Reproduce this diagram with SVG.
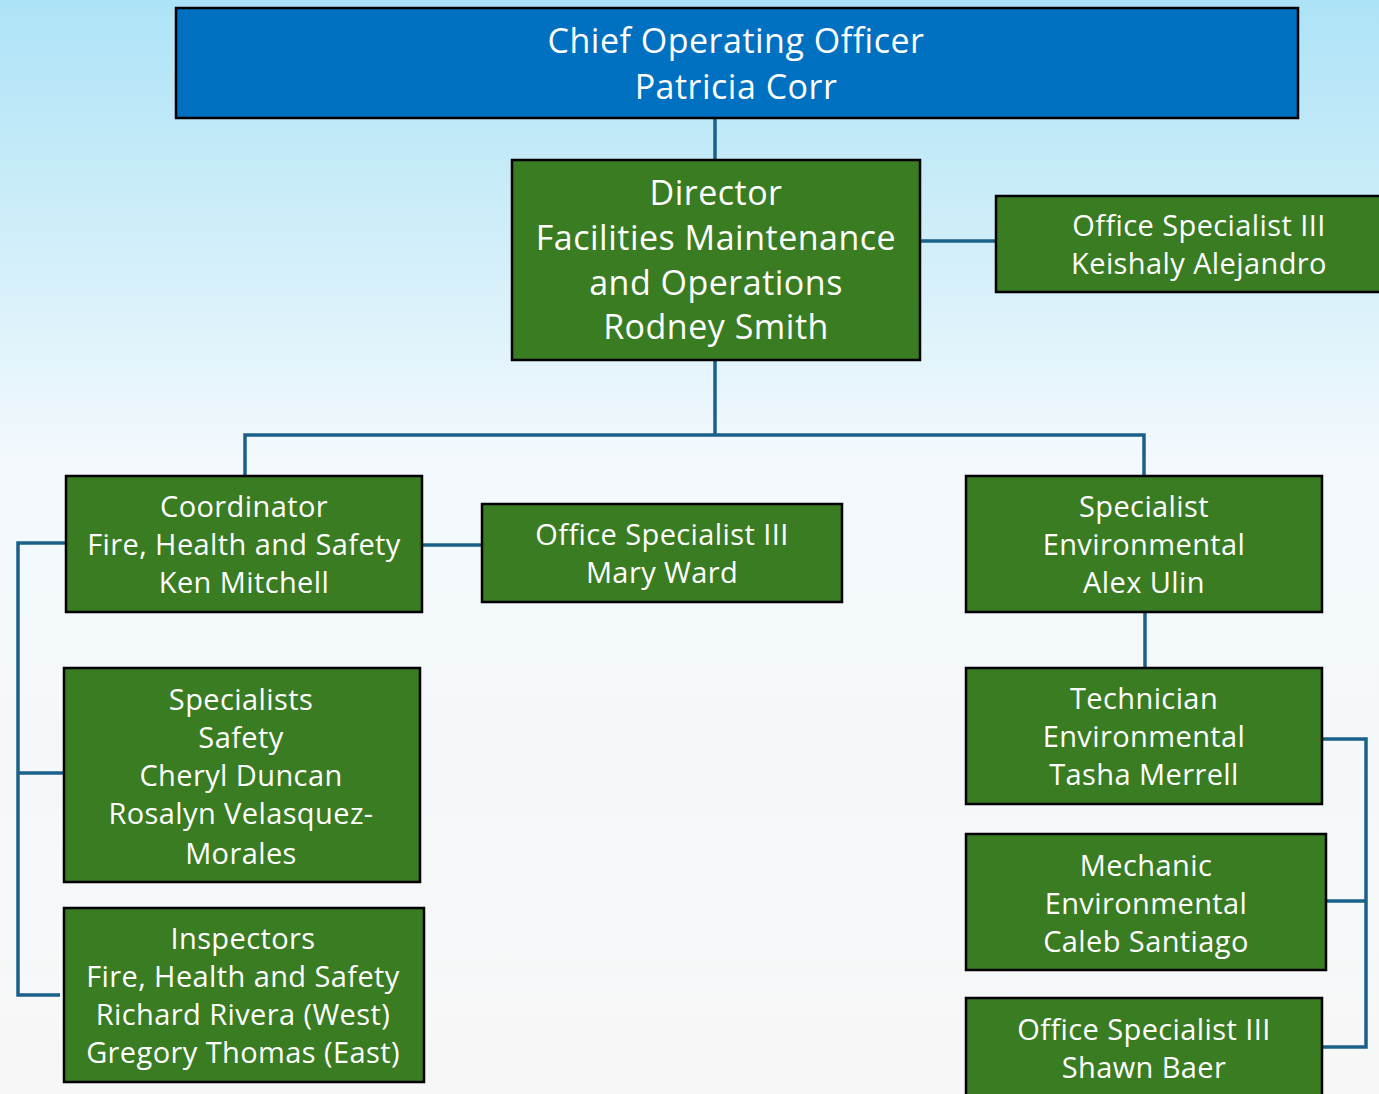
<svg xmlns="http://www.w3.org/2000/svg" width="1379" height="1094" viewBox="0 0 1379 1094">
<defs>
<linearGradient id="bg" x1="0" y1="0" x2="0" y2="1">
<stop offset="0" stop-color="#ADE3F7"/>
<stop offset="0.2" stop-color="#CDEDF9"/>
<stop offset="0.42" stop-color="#F3F9FD"/>
<stop offset="1" stop-color="#F7F7F7"/>
</linearGradient>
<style>
.box{fill:#3A7C22;stroke:#000;stroke-width:2.5}
.top{fill:#0070C0;stroke:#000;stroke-width:2.5}
.t{fill:#fff;font-family:"Open Sans","Noto Sans",sans-serif;text-anchor:middle}
.m{font-size:29px;letter-spacing:0.4px}
.b{font-size:34px;letter-spacing:0.5px}
.c{fill:none;stroke:#1B6089;stroke-width:3.5}
</style>
</defs>
<rect x="0" y="0" width="1379" height="1094" fill="url(#bg)"/>
<g id="connectors">
<path class="c" d="M715 118V160"/>
<path class="c" d="M920 241H996"/>
<path class="c" d="M715 360V435M245 476V435H1144V476"/>
<path class="c" d="M422 545H482"/>
<path class="c" d="M66 543H18V995H60M18 773H64"/>
<path class="c" d="M1145 612V668"/>
<path class="c" d="M1322 739H1366V1047H1322M1326 901H1366"/>
</g>
<g id="coo">
<rect class="top" x="176" y="8" width="1122" height="110"/>
<text class="t b" x="736" y="53">Chief Operating Officer</text>
<text class="t b" x="736" y="99">Patricia Corr</text>
</g>
<g id="director">
<rect class="box" x="512" y="160" width="408" height="200"/>
<text class="t b" x="716" y="205">Director</text>
<text class="t b" x="716" y="250">Facilities Maintenance</text>
<text class="t b" x="716" y="295">and Operations</text>
<text class="t b" x="716" y="339">Rodney Smith</text>
</g>
<g id="office-keishaly">
<rect class="box" x="996" y="196" width="390" height="96"/>
<text class="t m" x="1199" y="236">Office Specialist III</text>
<text class="t m" x="1199" y="274">Keishaly Alejandro</text>
</g>
<g id="coordinator">
<rect class="box" x="66" y="476" width="356" height="136"/>
<text class="t m" x="244" y="517">Coordinator</text>
<text class="t m" x="244" y="555">Fire, Health and Safety</text>
<text class="t m" x="244" y="593">Ken Mitchell</text>
</g>
<g id="office-mary">
<rect class="box" x="482" y="504" width="360" height="98"/>
<text class="t m" x="662" y="545">Office Specialist III</text>
<text class="t m" x="662" y="583">Mary Ward</text>
</g>
<g id="specialist-env">
<rect class="box" x="966" y="476" width="356" height="136"/>
<text class="t m" x="1144" y="517">Specialist</text>
<text class="t m" x="1144" y="555">Environmental</text>
<text class="t m" x="1144" y="593">Alex Ulin</text>
</g>
<g id="specialists-safety">
<rect class="box" x="64" y="668" width="356" height="214"/>
<text class="t m" x="241" y="710">Specialists</text>
<text class="t m" x="241" y="748">Safety</text>
<text class="t m" x="241" y="786">Cheryl Duncan</text>
<text class="t m" x="241" y="824">Rosalyn Velasquez-</text>
<text class="t m" x="241" y="864">Morales</text>
</g>
<g id="inspectors">
<rect class="box" x="64" y="908" width="360" height="174"/>
<text class="t m" x="243" y="949">Inspectors</text>
<text class="t m" x="243" y="987">Fire, Health and Safety</text>
<text class="t m" x="243" y="1025">Richard Rivera (West)</text>
<text class="t m" x="243" y="1063">Gregory Thomas (East)</text>
</g>
<g id="technician">
<rect class="box" x="966" y="668" width="356" height="136"/>
<text class="t m" x="1144" y="709">Technician</text>
<text class="t m" x="1144" y="747">Environmental</text>
<text class="t m" x="1144" y="785">Tasha Merrell</text>
</g>
<g id="mechanic">
<rect class="box" x="966" y="834" width="360" height="136"/>
<text class="t m" x="1146" y="876">Mechanic</text>
<text class="t m" x="1146" y="914">Environmental</text>
<text class="t m" x="1146" y="952">Caleb Santiago</text>
</g>
<g id="office-shawn">
<rect class="box" x="966" y="998" width="356" height="110"/>
<text class="t m" x="1144" y="1040">Office Specialist III</text>
<text class="t m" x="1144" y="1078">Shawn Baer</text>
</g>
</svg>
